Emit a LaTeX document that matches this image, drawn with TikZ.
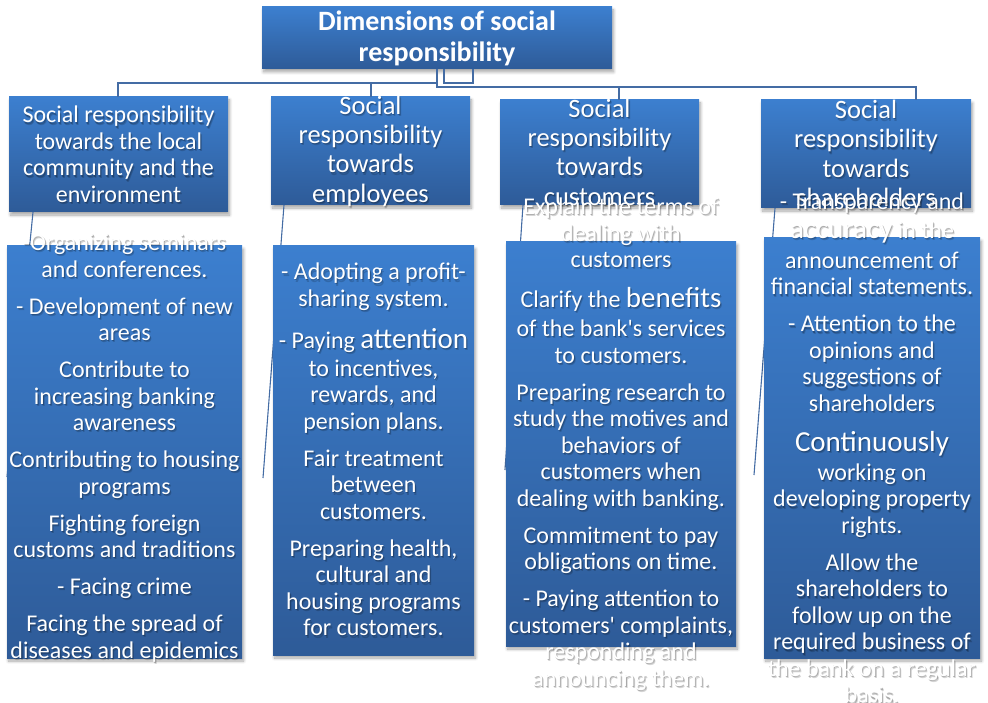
\documentclass[tikz,border=0pt]{standalone}
\usepackage{fontspec}
\setmainfont{Carlito}
\usetikzlibrary{shadows.blur}

\definecolor{boxtop}{RGB}{60,127,207}
\definecolor{boxbot}{RGB}{46,91,152}
\definecolor{linec}{RGB}{68,108,164}

\tikzset{
  panel/.style={rectangle, inner sep=0pt, outer sep=0pt, draw=none,
    top color=boxtop, bottom color=boxbot,
    blur shadow={shadow xshift=1.5pt, shadow yshift=-3pt,
      shadow blur steps=8, shadow blur radius=3pt, shadow opacity=35}},
  conn/.style={draw=linec, line width=1.4pt},
  itemtext/.style={align=center, inner sep=0pt, font=\fontsize{24}{26.5}\selectfont},
  headtext/.style={align=center, inner sep=0pt, font=\fontsize{26.5}{29.3}\selectfont},
  localhead/.style={align=center, inner sep=0pt, font=\fontsize{24}{26.5}\selectfont},
  titletext/.style={align=center, inner sep=0pt, text=white,
    font=\fontsize{28}{31}\selectfont\bfseries},
}

% white text with a soft dark shadow underneath
\newcommand\shadowtext[4]{%
  \node[#3, text=black, text opacity=0.16] (#1sa) at ([shift={(1.6pt,-2.4pt)}]#2) {#4};
  \node[#3, text=black, text opacity=0.22] (#1sb) at ([shift={(0.8pt,-1.2pt)}]#2) {#4};
  \node[#3, text=white] (#1) at (#2) {#4};
}
\newcommand\emword{\fontsize{29}{26.5}\selectfont}
\newcommand\itemgap{\\[10.5pt]}
\newcommand\apos{\textquotesingle}

\begin{document}
\begin{tikzpicture}[x=1pt, y=-1pt]
\useasboundingbox (0,0) rectangle (988,703);

% ---- tree connectors from the title ----
\coordinate (h1) at (437,83);
\coordinate (h2) at (437,87);
\coordinate (k1) at (444,83);
\coordinate (k2) at (473,83);
\coordinate (l1) at (118,83);
\coordinate (l2) at (371,83);
\coordinate (r3) at (619,87);
\coordinate (r4) at (916,87);

% title box
\node[panel, minimum width=350pt, minimum height=62pt, anchor=north west] (T) at (262,7) {};

% first-level boxes
\node[panel, minimum width=219pt, minimum height=115pt, anchor=north west] (d1) at (9,97) {};
\node[panel, minimum width=199pt, minimum height=108pt, anchor=north west] (d2) at (271,97) {};
\node[panel, minimum width=199pt, minimum height=105pt, anchor=north west] (d3) at (500,100) {};
\node[panel, minimum width=210pt, minimum height=108pt, anchor=north west] (d4) at (761,100) {};

\draw[conn] (h1 |- T.south) -- (h2) -- (r4) -- (r4 |- d4.north);
\draw[conn] (r3) -- (r3 |- d3.north);
\draw[conn] (h1) -- (l1) -- (l1 |- d1.north);
\draw[conn] (l2) -- (l2 |- d2.north);
\draw[conn] (k1 |- T.south) -- (k1) -- (k2) -- (k2 |- T.south);

% title text
\node[titletext] (Tt) at (437,38) {Dimensions of social\\responsibility};

% first-level texts
\shadowtext{h1t}{118.5,154.5}{localhead}{Social responsibility\\towards the local\\community and the\\environment}
\shadowtext{h2t}{370.5,151}{headtext}{Social\\responsibility\\towards\\employees}
\shadowtext{h3t}{599.5,152}{headtext}{Social\\responsibility\\towards\\customers}
\shadowtext{h4t}{866,153.5}{headtext}{Social\\responsibility\\towards\\shareholders}

% connectors running down to the detail lists
\coordinate (e1) at (7,477);
\coordinate (e2) at (263,478);
\coordinate (e3) at (505,470);
\coordinate (e4) at (754,475);
\draw[conn, line width=1.1pt] ([xshift=24pt]d1.south west) -- (e1);
\draw[conn, line width=1.1pt] ([xshift=13pt]d2.south west) -- (e2);
\draw[conn, line width=1.1pt] ([xshift=23pt]d3.south west) -- (e3);
\draw[conn, line width=1.1pt] ([xshift=14pt]d4.south west) -- (e4);

% second-level boxes
\node[panel, minimum width=235pt, minimum height=412pt, anchor=north west] (b1) at (7,246) {};
\node[panel, minimum width=201pt, minimum height=409pt, anchor=north west] (b2) at (273,246) {};
\node[panel, minimum width=230pt, minimum height=404pt, anchor=north west] (b3) at (506,242) {};
\node[panel, minimum width=216pt, minimum height=420pt, anchor=north west] (b4) at (764,238) {};

% second-level texts
\shadowtext{c1}{124.5,448}{itemtext}{%
-Organizing seminars\\and conferences.\itemgap
- Development of new\\areas\itemgap
Contribute to\\increasing banking\\awareness\itemgap
Contributing to housing\\programs\itemgap
Fighting foreign\\customs and traditions\itemgap
- Facing crime\itemgap
Facing the spread of\\diseases and epidemics}

\shadowtext{c2}{373.5,449.5}{itemtext}{%
- Adopting a profit-\\sharing system.\\[15.5pt]
- Paying {\emword attention}\\[1.5pt]
to incentives,\\rewards, and\\pension plans.\itemgap
Fair treatment\\between\\customers.\itemgap
Preparing health,\\cultural and\\housing programs\\for customers.}

\shadowtext{c3}{621,444}{itemtext}{%
Explain the terms of\\dealing with\\customers\\[13.5pt]
Clarify the {\emword benefits}\\[2.5pt]
of the bank\apos s services\\to customers.\itemgap
Preparing research to\\study the motives and\\behaviors of\\customers when\\dealing with banking.\itemgap
Commitment to pay\\obligations on time.\itemgap
- Paying attention to\\customers\apos{} complaints,\\responding and\\announcing them.}

\shadowtext{c4}{872,448}{itemtext}{%
- Transparency and\\[2.5pt]
{\emword accuracy} in the\\[3.5pt]
announcement of\\financial statements.\itemgap
- Attention to the\\opinions and\\suggestions of\\shareholders\\[13.5pt]
{\emword Continuously}\\[2.5pt]
working on\\developing property\\rights.\itemgap
Allow the\\shareholders to\\follow up on the\\required business of\\the bank on a regular\\basis.}

\end{tikzpicture}
\end{document}
